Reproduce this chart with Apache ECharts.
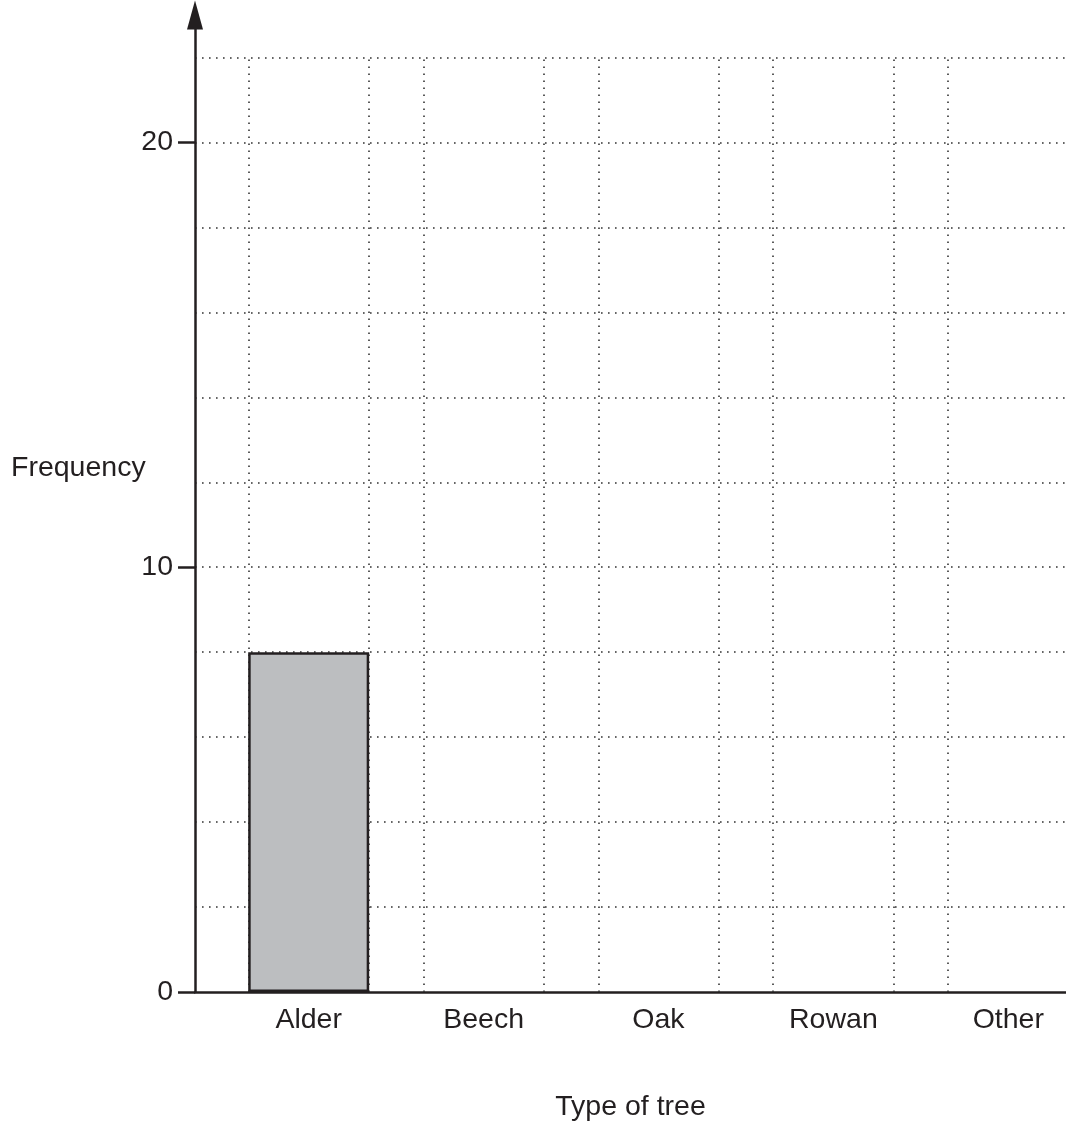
<!DOCTYPE html>
<html>
<head>
<meta charset="utf-8">
<script src="https://cdn.jsdelivr.net/npm/echarts@6/dist/echarts.min.js"></script>
<style>
  html, body { margin: 0; padding: 0; background: #ffffff; }
  #chart { width: 1066px; height: 1122px; }
</style>
</head>
<body>
<div id="chart"></div>
<script>
// ---- data ----
const categories = ['Alder', 'Beech', 'Oak', 'Rowan', 'Other'];
const frequencies = [8, null, null, null, null];
const yTickLabels = [0, 10, 20];
const gridStep = 2;
const gridTopValue = 22;

// ---- styles ----
const INK = '#231f20';
const FONT = '"Liberation Sans", Arial, Helvetica, sans-serif';
const FS = 28.5;
const BAR_HALF = 0.344;          // half bar width in category units
const X_MIN = -0.65, X_MAX = 4.33;
const dotted = { color: '#333333', width: 1.6, type: [1.6, 5.4] };

const barData = [];
categories.forEach((c, i) => { if (frequencies[i] != null) barData.push([i, frequencies[i]]); });

const vLines = [];
categories.forEach((c, i) => {
  [i - BAR_HALF, i + BAR_HALF].forEach(x => {
    if (x > X_MIN && x < X_MAX) vLines.push([{ coord: [x, 0] }, { coord: [x, gridTopValue] }]);
  });
});

const chart = echarts.init(document.getElementById('chart'), null, { renderer: 'canvas' });
chart.setOption({
  animation: false,
  backgroundColor: '#ffffff',
  textStyle: { fontFamily: FONT },
  title: {
    text: 'Frequency',
    left: 11, top: 454, padding: 0,
    textStyle: { fontFamily: FONT, fontSize: FS, fontWeight: 'normal', color: INK }
  },
  grid: { left: 195, right: 0, top: 15, bottom: 130, containLabel: false, outerBoundsMode: 'none' },
  xAxis: {
    type: 'value',
    min: X_MIN, max: X_MAX,
    name: 'Type of tree',
    nameLocation: 'middle',
    nameGap: 101,
    nameTextStyle: { fontFamily: FONT, fontSize: FS, color: INK },
    axisLine: { onZero: false, lineStyle: { color: INK, width: 2.5 } },
    axisTick: { show: false },
    splitLine: { show: false },
    axisLabel: {
      customValues: categories.map((c, i) => i),
      formatter: v => categories[Math.round(v)] || '',
      fontFamily: FONT, fontSize: FS, color: INK, margin: 14
    }
  },
  yAxis: [
    {
      type: 'value', position: 'left', min: 0, max: 23, interval: gridStep,
      axisLine: { show: false, onZero: false },
      axisTick: { show: false },
      axisLabel: { show: false },
      splitLine: { show: true, showMinLine: false, showMaxLine: false, lineStyle: dotted }
    },
    {
      type: 'value', position: 'left', min: 0, max: 23, interval: 10,
      axisLine: {
        show: true, onZero: false,
        symbol: ['none', 'triangle'], symbolSize: [16, 29],
        lineStyle: { color: INK, width: 2.5 }
      },
      axisTick: { show: true, customValues: yTickLabels, length: 17, inside: false, lineStyle: { color: INK, width: 2.5 } },
      axisLabel: { customValues: yTickLabels, fontFamily: FONT, fontSize: FS, color: INK, margin: 22 },
      splitLine: { show: false }
    }
  ],
  series: [
    {
      type: 'line', xAxisIndex: 0, yAxisIndex: 0, z: 1, data: [],
      markLine: {
        z: 1, silent: true, symbol: ['none', 'none'],
        label: { show: false },
        lineStyle: dotted,
        emphasis: { disabled: true },
        data: vLines
      }
    },
    {
      type: 'bar', xAxisIndex: 0, yAxisIndex: 0, z: 3,
      barWidth: 121,
      data: barData,
      itemStyle: { color: '#bcbec0', borderColor: INK, borderWidth: 2.5 }
    }
  ]
});
</script>
</body>
</html>
